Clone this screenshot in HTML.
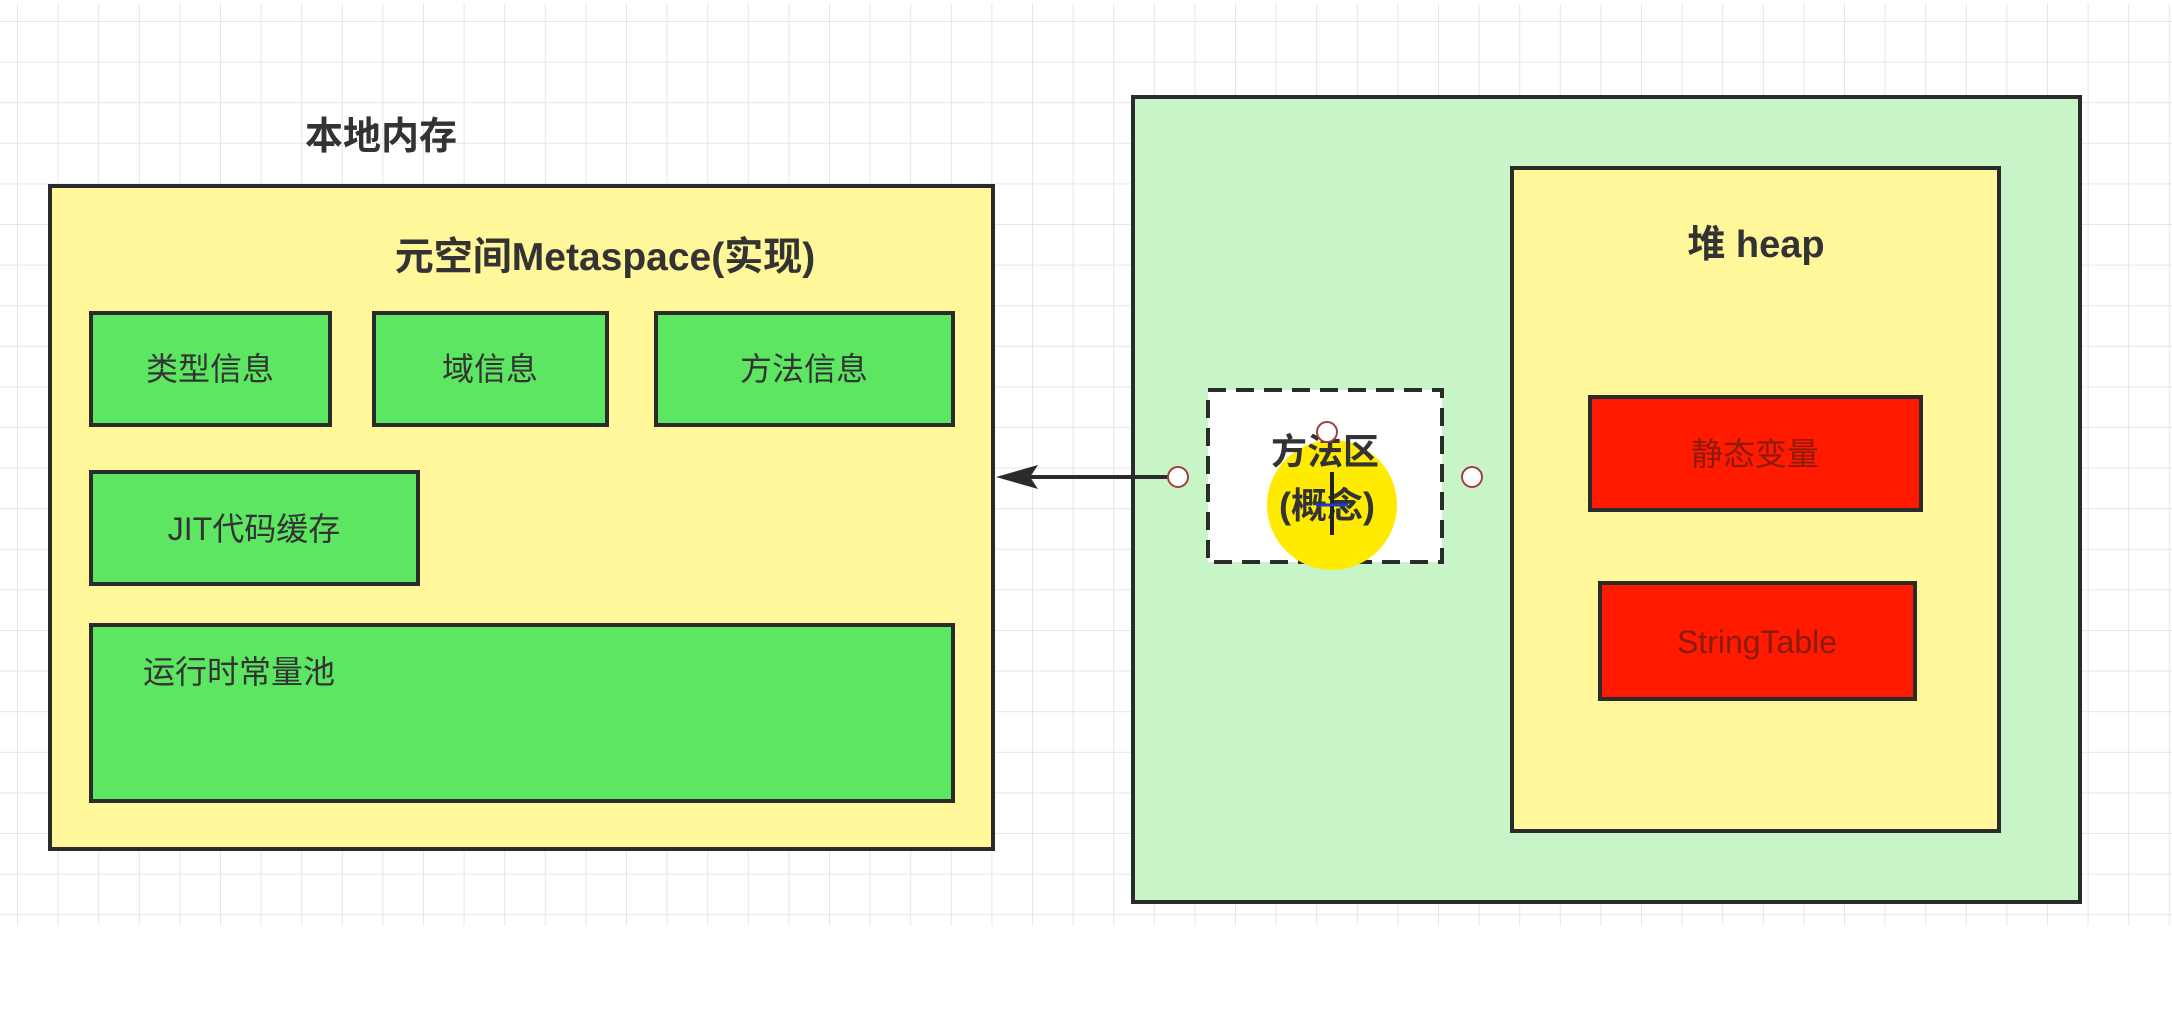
<!DOCTYPE html>
<html><head><meta charset="utf-8"><style>
html,body{margin:0;padding:0;background:#fff;}
svg{display:block}
text{font-family:"Liberation Sans","Noto Sans CJK SC",sans-serif;}
</style></head><body>
<svg width="2172" height="1032" viewBox="0 0 2172 1032" xmlns="http://www.w3.org/2000/svg">
<defs>
<pattern id="g" x="17" y="21" width="40.6" height="40.6" patternUnits="userSpaceOnUse">
<path d="M0 0V40.6M0 0H40.6" stroke="#e6e6e6" stroke-width="2" fill="none"/>
</pattern>
</defs>
<rect x="0" y="4" width="2172" height="922" fill="url(#g)"/>
<rect x="0" y="926" width="2172" height="106" fill="#fff"/>

<text x="381" y="149" font-size="38" font-weight="bold" fill="#333" text-anchor="middle">本地内存</text>

<rect x="50" y="186" width="943" height="663" fill="#fff799" stroke="#2b2b2b" stroke-width="4"/>
<text x="605" y="270" font-size="39" font-weight="bold" fill="#333" text-anchor="middle">元空间Metaspace(实现)</text>

<g stroke="#2b2b2b" stroke-width="4" fill="#5ce662">
<rect x="91" y="313" width="239" height="112"/>
<rect x="374" y="313" width="233" height="112"/>
<rect x="656" y="313" width="297" height="112"/>
<rect x="91" y="472" width="327" height="112"/>
<rect x="91" y="625" width="862" height="176"/>
</g>
<g font-size="32" fill="#333" text-anchor="middle">
<text x="210" y="380">类型信息</text>
<text x="490" y="380">域信息</text>
<text x="804" y="380">方法信息</text>
<text x="254" y="540">JIT代码缓存</text>
<text x="143" y="683" text-anchor="start">运行时常量池</text>
</g>

<rect x="1133" y="97" width="947" height="805" fill="#c8f5c8" stroke="#2b2b2b" stroke-width="4"/>
<rect x="1512" y="168" width="487" height="663" fill="#fff799" stroke="#2b2b2b" stroke-width="4"/>
<text x="1756" y="257" font-size="38" font-weight="bold" fill="#333" text-anchor="middle">堆 heap</text>
<rect x="1590" y="397" width="331" height="113" fill="#ff1a00" stroke="#2b2b2b" stroke-width="4"/>
<rect x="1600" y="583" width="315" height="116" fill="#ff1a00" stroke="#2b2b2b" stroke-width="4"/>
<text x="1755" y="465" font-size="32" fill="#8a1a0a" text-anchor="middle">静态变量</text>
<text x="1757" y="653" font-size="32" fill="#8a1a0a" text-anchor="middle">StringTable</text>

<rect x="1208" y="390" width="234" height="172" fill="#fff" stroke="#2b2b2b" stroke-width="4" stroke-dasharray="18,10"/>
<circle cx="1332" cy="505" r="65" fill="#ffeb00"/>
<text x="1325" y="464" font-size="36" font-weight="bold" fill="#333" text-anchor="middle">方法区</text>
<text x="1327" y="518" font-size="36" font-weight="bold" fill="#333" text-anchor="middle">(概念)</text>
<line x1="1332" y1="472" x2="1332" y2="535" stroke="#222" stroke-width="4"/>
<line x1="1316" y1="505" x2="1348" y2="505" stroke="#1a3ad0" stroke-width="3"/>

<line x1="1168" y1="477" x2="1030" y2="477" stroke="#2b2b2b" stroke-width="4"/>
<polygon points="996,477 1038,465 1030,477 1038,489" fill="#2b2b2b"/>
<g fill="#fff" stroke="#a04040" stroke-width="2">
<circle cx="1178" cy="477" r="10"/>
<circle cx="1472" cy="477" r="10"/>
<circle cx="1327" cy="432" r="10"/>
</g>
</svg>
</body></html>
